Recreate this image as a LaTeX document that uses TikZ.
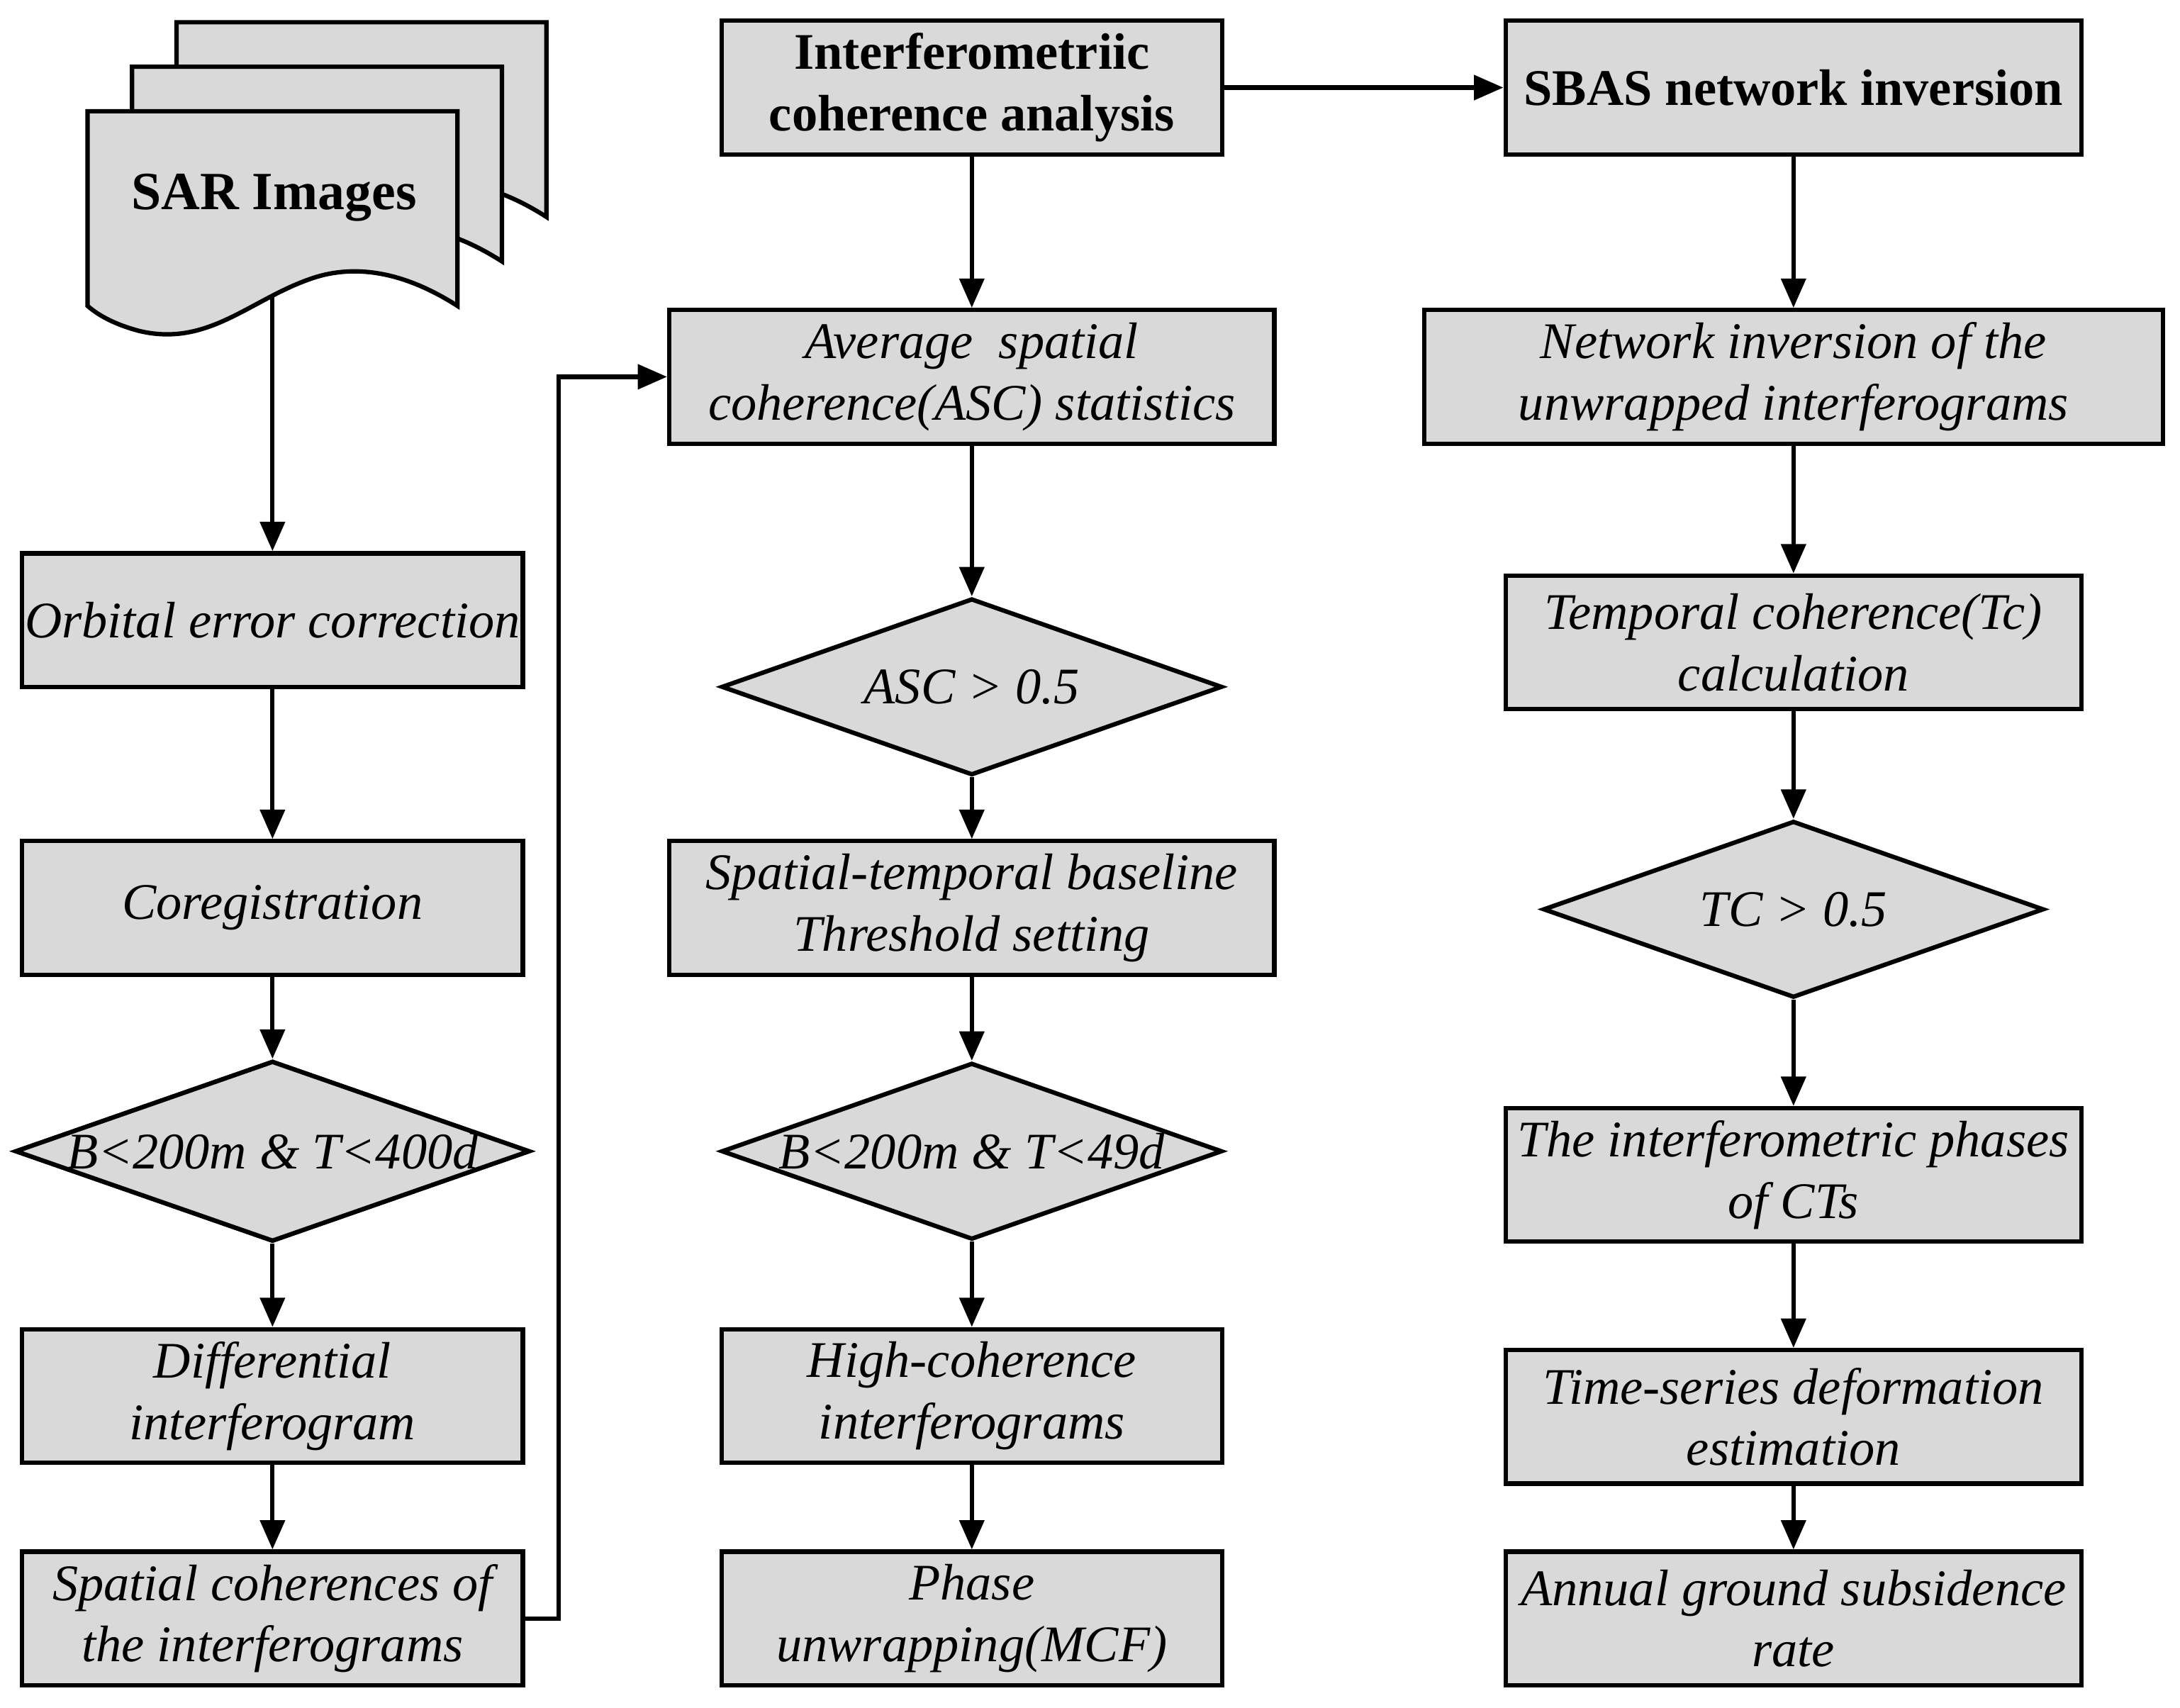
\documentclass[tikz,border=0pt]{standalone}
\usepackage{fontspec}
\setmainfont{Liberation Serif}
\usetikzlibrary{shapes.geometric,arrows.meta}
\begin{document}
\begin{tikzpicture}[x=0.01cm,y=-0.01cm,
  box/.style={draw,line width=0.9pt,fill=gray!30,inner sep=0pt,align=center,font=\fontsize{10.5}{12.6}\selectfont\itshape},
  bbox/.style={box,font=\fontsize{10.5}{12.6}\selectfont\bfseries},
  dia/.style={draw,line width=0.9pt,fill=gray!30,diamond,aspect=2.85,inner sep=0pt,font=\fontsize{10.5}{12.6}\selectfont\itshape},
  arr/.style={line width=0.9pt,-{Triangle[length=6pt,width=5pt]}}]
\useasboundingbox (0,0) rectangle (1568,1228);
\newcommand{\bx}[6]{\node[#1,minimum width=#4*0.01cm,minimum height=#5*0.01cm] (#6) at (#2,#3) {#6text};}
% boxes: name, center, size
\def\B#1#2#3#4#5#6#7{\node[#1,minimum width=#4 cm/100,minimum height=#5 cm/100] (#6) at (#2,#3) {#7};}
% SAR documents
\foreach \dx/\dy in {64/-64,32/-32}{
  \draw[line width=0.9pt,fill=gray!30,shift={(\dx,\dy)}] (63,220) -- (63,80) -- (329,80) -- (329,220)
     .. controls (290,195) and (255,190) .. (225,200) .. controls (180,215) and (150,250) .. (100,238)
     .. controls (85,234) and (72,228) .. (63,220) -- cycle;}
\draw[line width=0.9pt,fill=gray!30] (63,220) -- (63,80) -- (329,80) -- (329,220)
     .. controls (290,195) and (255,190) .. (225,200) .. controls (180,215) and (150,250) .. (100,238)
     .. controls (85,234) and (72,228) .. (63,220) -- cycle;
\node[font=\fontsize{11}{13}\selectfont\bfseries] (sar) at (197,142) {SAR Images};
\coordinate (sarb) at (196,213);
% left column
\B{box}{196}{446}{360}{96}{orb}{Orbital error correction}
\B{box}{196}{653}{360}{96}{coreg}{Coregistration}
\B{dia}{196}{828}{360}{127}{d1}{B<200m \& T<400d}
\node[dia,minimum width=3.6cm,minimum height=1.27cm] (d1) at (196,828) {B<200m \& T<400d};
\B{box}{196}{1004}{360}{96}{diff}{Differential\\interferogram}
\B{box}{196}{1164}{360}{96}{spc}{Spatial coherences of\\the interferograms}
% middle column
\B{bbox}{699}{63}{360}{96}{ica}{Interferometriic\\coherence analysis}
\B{box}{699}{271}{435}{96}{asc}{Average\ \ spatial\\coherence(ASC) statistics}
\node[dia,minimum width=3.6cm,minimum height=1.27cm] (d2) at (699,494) {ASC > 0.5};
\B{box}{699}{653}{435}{96}{stb}{Spatial-temporal baseline\\Threshold setting}
\node[dia,minimum width=3.6cm,minimum height=1.27cm] (d3) at (699,828) {B<200m \& T<49d};
\B{box}{699}{1004}{360}{96}{hci}{High-coherence\\interferograms}
\B{box}{699}{1164}{360}{96}{pu}{Phase\\unwrapping(MCF)}
% right column
\B{bbox}{1290}{63}{414}{96}{sbas}{SBAS network inversion}
\B{box}{1290}{271}{531}{96}{ni}{Network inversion of the\\unwrapped interferograms}
\B{box}{1290}{462}{414}{96}{tc}{Temporal coherence(Tc)\\calculation}
\node[dia,minimum width=3.6cm,minimum height=1.27cm] (d4) at (1290,654) {TC > 0.5};
\B{box}{1290}{845}{414}{96}{ip}{The interferometric phases\\of CTs}
\B{box}{1290}{1019}{414}{96}{ts}{Time-series deformation\\estimation}
\B{box}{1290}{1164}{414}{96}{ann}{Annual ground subsidence\\rate}
% connectors
\draw[arr] (sarb) -- (orb);
\draw[arr] (orb) -- (coreg);
\draw[arr] (coreg) -- (d1);
\draw[arr] (d1) -- (diff);
\draw[arr] (diff) -- (spc);
\draw[arr] (spc.east) -- ++(24,0) |- (asc.west);
\draw[arr] (ica) -- (asc);
\draw[arr] (asc) -- (d2);
\draw[arr] (d2) -- (stb);
\draw[arr] (stb) -- (d3);
\draw[arr] (d3) -- (hci);
\draw[arr] (hci) -- (pu);
\draw[arr] (ica) -- (sbas);
\draw[arr] (sbas) -- (ni);
\draw[arr] (ni) -- (tc);
\draw[arr] (tc) -- (d4);
\draw[arr] (d4) -- (ip);
\draw[arr] (ip) -- (ts);
\draw[arr] (ts) -- (ann);
\end{tikzpicture}
\end{document}
